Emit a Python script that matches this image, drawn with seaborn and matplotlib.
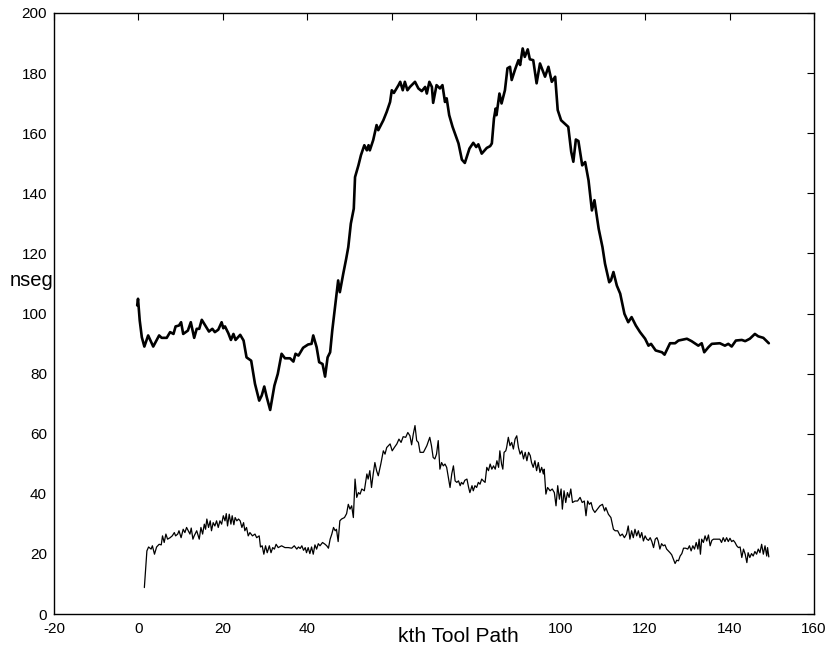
import matplotlib
matplotlib.use("Agg")
import matplotlib.pyplot as plt
import seaborn as sns
import pandas as pd
from matplotlib import font_manager

# upper (thick) series: nseg per tool path
thick_x = [-0.3, -0.1, 0.3, 0.8, 1.4, 2.3, 3.5, 4.9, 5.5, 6.7, 7.5, 8.3, 8.8, 9.6, 10.1, 10.6,
           11.7, 12.4, 13.2, 13.8, 14.4, 15.0, 16.7, 17.5, 18.1, 18.9, 19.7, 20.1, 20.5, 21.3,
           21.9, 22.5, 23.0, 24.1, 24.9, 25.6, 26.7, 27.6, 28.6, 29.2, 29.8, 30.4, 31.2, 32.2,
           33.0, 33.9, 34.7, 35.9, 36.7, 37.2, 37.9, 39.0, 40.2, 41.0, 41.4, 42.2, 42.8, 43.6,
           44.2, 44.8, 45.4, 45.9, 46.7, 47.3, 47.7, 48.5, 49.2, 49.7, 50.3, 51.0, 51.3, 52.1,
           52.7, 53.5, 54.1, 54.5, 54.8, 55.6, 56.4, 56.8, 58.0, 58.8, 59.6, 60.0, 60.5, 61.6,
           62.0, 62.6, 63.1, 63.7, 64.3, 65.5, 66.3, 67.1, 67.9, 68.3, 68.9, 69.5, 69.8, 70.6,
           71.4, 72.0, 72.6, 73.0, 73.6, 74.4, 75.8, 76.6, 77.3, 78.4, 79.3, 80.0, 80.5, 81.3,
           82.5, 83.3, 83.7, 84.2, 84.6, 84.8, 85.5, 86.0, 86.8, 87.4, 88.0, 88.4, 89.2, 90.0,
           90.4, 91.0, 91.5, 92.2, 92.7, 93.5, 94.3, 95.1, 96.3, 97.1, 97.9, 98.7, 99.3, 100.1,
           101.8, 102.5, 103.0, 103.6, 104.2, 105.1, 105.8, 106.6, 107.4, 108.0, 109.0, 109.9,
           110.5, 111.5, 111.9, 112.5, 113.3, 114.1, 115.1, 116.0, 116.8, 117.8, 118.8, 120.0,
           120.8, 121.4, 122.5, 124.0, 124.6, 125.9, 127.1, 127.9, 129.9, 131.0, 132.6, 133.4,
           134.0, 135.0, 135.8, 137.7, 138.9, 139.7, 140.5, 141.5, 142.9, 143.7, 144.8, 146.0,
           146.8, 148.0, 149.3]
thick_y = [102.7, 104.9, 97.7, 92.1, 89.0, 92.7, 89.0, 92.7, 91.9, 91.9, 93.8, 93.2, 95.7, 96.0,
           97.1, 93.2, 94.3, 97.1, 91.9, 94.9, 94.9, 97.9, 94.0, 94.9, 93.8, 94.6, 97.1, 95.1,
           95.7, 93.4, 91.2, 93.2, 91.2, 92.9, 91.0, 85.4, 84.3, 76.6, 71.0, 72.7, 75.7, 72.1,
           67.9, 76.0, 79.9, 86.6, 85.1, 85.1, 84.0, 86.6, 86.0, 88.6, 89.7, 89.9, 92.7, 88.8,
           83.8, 83.2, 79.0, 85.4, 87.1, 94.3, 103.8, 111.0, 107.1, 113.2, 118.2, 122.1, 129.9,
           134.9, 145.4, 149.3, 152.7, 156.0, 154.3, 156.0, 154.3, 157.7, 162.7, 161.0, 164.3,
           167.1, 170.4, 174.3, 173.4, 176.0, 177.1, 174.3, 177.1, 174.3, 175.4, 177.1, 174.9,
           174.0, 175.4, 173.2, 177.1, 175.4, 170.1, 176.0, 174.9, 176.0, 170.4, 171.6, 166.0,
           162.1, 156.6, 151.2, 150.1, 154.9, 156.8, 155.4, 156.3, 153.2, 155.1, 155.7, 156.6,
           164.9, 168.2, 166.0, 173.2, 169.9, 174.3, 181.6, 182.1, 177.7, 181.2, 184.3, 182.7,
           188.2, 185.4, 187.9, 184.6, 184.3, 176.6, 183.2, 178.8, 182.1, 177.1, 178.8, 167.7,
           164.3, 162.1, 153.8, 150.5, 157.9, 157.4, 149.3, 150.4, 144.3, 134.3, 137.7, 128.2,
           122.1, 116.6, 110.4, 111.0, 113.8, 109.3, 106.6, 99.9, 97.1, 98.8, 96.0, 93.8, 91.6,
           89.3, 89.9, 87.7, 87.1, 86.3, 90.1, 90.1, 91.0, 91.6, 90.8, 89.3, 90.1, 87.1, 88.8,
           89.9, 90.1, 89.3, 89.9, 89.0, 91.0, 91.2, 90.8, 91.6, 93.2, 92.4, 91.9, 90.1]

# lower (thin) series
thin_x = [1.4, 2.0, 2.4, 3.0, 3.3, 3.8, 4.3, 4.9, 5.4, 5.7, 6.1, 6.5, 6.9, 7.5, 8.0, 8.5, 8.8,
          9.3, 9.6, 10.1, 10.6, 11.0, 11.4, 11.8, 12.2, 12.5, 12.9, 13.2, 13.8, 14.4, 14.8, 15.2,
          15.6, 15.9, 16.2, 16.6, 17.0, 17.3, 17.7, 18.1, 18.5, 18.9, 19.3, 19.7, 20.1, 20.5,
          20.8, 21.1, 21.5, 21.9, 22.2, 22.6, 22.9, 23.3, 23.7, 24.1, 24.5, 24.9, 25.2, 25.6,
          26.0, 26.4, 27.0, 27.6, 28.0, 28.6, 28.9, 29.3, 29.7, 30.1, 30.5, 31.0, 31.4, 31.8,
          32.2, 32.6, 33.1, 33.9, 34.7, 35.5, 36.3, 36.9, 37.5, 37.9, 38.3, 38.7, 39.1, 39.5,
          39.8, 40.2, 40.6, 41.0, 41.4, 41.8, 42.2, 42.6, 43.0, 43.6, 44.2, 44.6, 45.0, 45.4,
          45.8, 46.2, 46.6, 46.9, 47.3, 47.7, 48.1, 48.8, 49.3, 49.7, 50.1, 50.5, 50.9, 51.3,
          51.7, 52.1, 52.5, 52.9, 53.5, 54.1, 54.4, 54.8, 55.2, 55.6, 56.0, 56.4, 56.8, 57.4,
          58.0, 58.4, 58.8, 59.2, 59.6, 60.1, 60.6, 61.2, 61.7, 62.2, 62.7, 63.3, 63.8, 64.3,
          64.7, 65.1, 65.5, 65.9, 66.3, 66.7, 67.5, 68.3, 69.0, 69.4, 69.8, 70.2, 70.6, 71.0,
          71.4, 71.8, 72.2, 72.6, 73.0, 73.4, 73.8, 74.2, 74.6, 75.0, 75.4, 75.8, 76.2, 76.5,
          76.9, 77.3, 77.8, 78.2, 78.5, 79.0, 79.3, 79.7, 80.1, 80.5, 80.9, 81.3, 81.7, 82.1,
          82.5, 82.9, 83.3, 83.7, 84.1, 84.5, 84.9, 85.3, 85.6, 86.0, 86.3, 86.6, 87.0, 87.2,
          87.6, 88.0, 88.4, 88.8, 89.2, 89.6, 90.0, 90.4, 90.8, 91.2, 91.6, 92.0, 92.4, 92.8,
          93.1, 93.5, 93.9, 94.3, 94.7, 95.1, 95.5, 95.9, 96.1, 96.5, 96.9, 97.5, 98.0, 98.5,
          98.9, 99.3, 99.7, 100.1, 100.4, 100.8, 101.2, 101.6, 102.0, 102.4, 102.8, 103.4,
          104.0, 104.6, 105.1, 105.6, 106.0, 106.4, 106.8, 107.2, 107.6, 108.1, 108.7, 109.3,
          109.9, 110.4, 110.7, 111.3, 111.9, 112.5, 112.9, 113.5, 114.1, 114.6, 115.1, 115.6,
          116.0, 116.4, 116.8, 117.2, 117.6, 118.0, 118.4, 118.8, 119.2, 119.6, 120.0, 120.4,
          120.8, 121.2, 121.6, 122.0, 122.4, 122.8, 123.1, 123.5, 123.9, 124.3, 124.7, 125.1,
          125.5, 125.9, 126.3, 126.7, 127.1, 127.5, 127.9, 128.3, 128.7, 129.1, 129.6, 130.1,
          130.5, 130.9, 131.3, 131.7, 132.1, 132.5, 132.8, 133.1, 133.4, 133.8, 134.2, 134.6,
          135.0, 135.4, 135.8, 136.2, 137.0, 137.7, 138.1, 138.5, 138.9, 139.3, 139.7, 140.1,
          140.5, 140.9, 141.3, 141.7, 142.1, 142.5, 142.9, 143.3, 143.7, 144.1, 144.4, 144.8,
          145.2, 145.6, 146.0, 146.4, 146.8, 147.2, 147.6, 148.0, 148.4, 148.8, 149.0, 149.3]
thin_y = [8.8, 21.0, 22.3, 21.6, 22.7, 19.9, 22.3, 23.2, 23.0, 26.0, 23.8, 26.6, 24.9, 25.4,
          26.0, 27.1, 26.0, 26.6, 27.7, 25.4, 28.2, 27.1, 28.8, 27.7, 26.6, 28.6, 24.9, 26.0,
          27.7, 24.9, 28.8, 26.6, 29.9, 28.2, 31.6, 28.8, 31.0, 27.7, 30.4, 29.3, 31.0, 28.8,
          31.0, 29.9, 32.7, 31.0, 33.4, 29.3, 33.2, 29.9, 32.7, 29.7, 32.1, 31.0, 31.6, 31.0,
          28.8, 30.4, 27.7, 28.8, 26.0, 27.1, 26.0, 26.6, 25.4, 26.0, 22.3, 22.7, 19.9, 22.7,
          20.4, 22.7, 20.4, 22.1, 21.6, 23.2, 22.1, 22.7, 22.1, 22.1, 21.9, 22.7, 21.6, 22.3,
          21.8, 22.7, 21.2, 22.1, 20.4, 22.1, 20.1, 22.3, 19.9, 23.0, 21.6, 23.4, 22.7, 23.8,
          23.2, 22.7, 21.9, 24.9, 26.6, 28.8, 27.7, 28.2, 24.1, 31.0, 31.6, 32.1, 33.4, 36.5,
          34.9, 36.0, 32.1, 44.9, 38.8, 40.4, 39.9, 41.6, 41.0, 46.6, 44.9, 47.7, 42.1, 46.6,
          50.4, 47.7, 46.0, 49.9, 54.3, 53.2, 55.4, 56.0, 56.6, 54.3, 55.4, 56.6, 58.2, 57.1,
          59.0, 58.8, 60.4, 59.3, 56.3, 59.9, 62.7, 57.7, 57.1, 53.8, 53.8, 56.0, 58.8, 56.0,
          52.1, 51.6, 53.2, 57.7, 48.2, 50.4, 49.3, 49.9, 48.8, 45.4, 42.1, 46.6, 49.3, 44.3,
          43.8, 44.3, 42.7, 43.8, 43.2, 44.5, 44.9, 42.1, 40.4, 42.7, 41.0, 42.7, 42.1, 43.8,
          43.2, 44.9, 44.3, 43.8, 48.8, 47.7, 49.9, 48.2, 49.3, 48.2, 51.0, 48.8, 54.3, 49.9,
          48.2, 53.8, 54.3, 55.4, 58.8, 56.0, 57.1, 54.9, 58.2, 59.3, 55.4, 53.2, 54.3, 51.6,
          53.8, 51.0, 53.8, 52.7, 50.4, 48.8, 51.0, 47.7, 50.4, 47.1, 48.8, 46.6, 48.2, 39.9,
          42.1, 41.0, 41.6, 40.4, 36.0, 42.7, 38.2, 41.6, 34.9, 41.0, 37.1, 40.4, 38.8, 41.6,
          37.1, 37.6, 37.6, 38.8, 37.1, 37.6, 32.7, 37.6, 36.5, 37.1, 34.9, 33.8, 34.9, 36.0,
          36.5, 34.3, 35.4, 33.2, 32.1, 28.2, 27.7, 27.7, 26.0, 26.6, 25.4, 26.6, 29.3, 24.9,
          27.7, 25.4, 28.2, 26.0, 27.7, 25.4, 27.1, 24.3, 26.0, 24.9, 24.5, 25.4, 24.1, 22.1,
          24.9, 25.4, 24.3, 21.6, 23.4, 22.7, 23.0, 21.6, 21.0, 20.4, 19.7, 18.2, 16.8, 17.9,
          17.7, 19.3, 20.1, 21.9, 21.9, 21.6, 22.7, 21.0, 22.7, 21.6, 23.8, 21.6, 24.9, 19.9,
          24.9, 23.8, 26.0, 24.3, 26.3, 22.7, 24.5, 24.9, 24.9, 24.9, 23.8, 25.4, 24.1, 25.4,
          24.1, 25.2, 24.1, 24.5, 23.8, 22.7, 22.1, 22.3, 18.8, 21.6, 19.9, 17.1, 20.4, 18.8,
          20.1, 19.3, 20.8, 19.9, 21.6, 20.4, 23.2, 19.9, 22.7, 19.3, 22.1, 19.0]

xticks = [-20, 0, 20, 40, 60, 80, 100, 120, 140, 160]
xtick_labels = ["-20", "0", "20", "40", "", "", "100", "120", "140", "160"]
yticks = [0, 20, 40, 60, 80, 100, 120, 140, 160, 180, 200]

thick_df = pd.DataFrame({"k": thick_x, "nseg": thick_y})
thin_df = pd.DataFrame({"k": thin_x, "nseg": thin_y})

sns.set_style("white")
plt.rcParams["font.family"] = ["Liberation Sans", "DejaVu Sans"]
plt.rcParams["text.color"] = "black"

installed = {f.name for f in font_manager.fontManager.ttflist}
narrow = "Liberation Sans Narrow" if "Liberation Sans Narrow" in installed else "Liberation Sans"

fig = plt.figure(figsize=(8.31, 6.46), dpi=100)
ax = fig.add_axes([54 / 831, 1 - 614 / 646, (814 - 54) / 831, (614 - 13) / 646])

sns.lineplot(data=thick_df, x="k", y="nseg", ax=ax, sort=False, estimator=None,
             color="black", linewidth=1.9)
sns.lineplot(data=thin_df, x="k", y="nseg", ax=ax, sort=False, estimator=None,
             color="black", linewidth=0.9)

ax.set_xlim(-20, 160)
ax.set_ylim(0, 200)
ax.set_xticks(xticks)
ax.set_xticklabels(xtick_labels)
ax.set_yticks(yticks)
ax.tick_params(direction="in", length=5, width=0.8, top=True, right=True,
               labelsize=11, colors="black", labelcolor="black")
ax.tick_params(axis="x", pad=6)
ax.tick_params(axis="y", pad=5)
for s in ax.spines.values():
    s.set_visible(True)
    s.set_color("black")
    s.set_linewidth(1.0)
ax.set_xlabel("")
ax.set_ylabel("")
ax.grid(False)

fig.text(458 / 831, 1 - 636 / 646, "kth Tool Path", ha="center", va="center",
         fontsize=15, family=[narrow, "DejaVu Sans"], color="black")
fig.text(10 / 831, 1 - 280 / 646, "nseg", ha="left", va="center", fontsize=14.5,
         color="black")

fig.savefig("out.png", dpi=100)
